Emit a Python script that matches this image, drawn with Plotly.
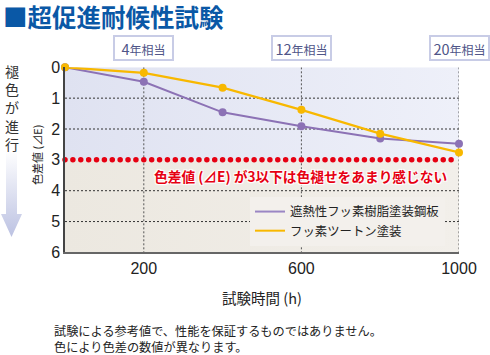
import numpy as np
import plotly.graph_objects as go

# ---- data ----
hours = [0, 200, 400, 600, 800, 1000]
purple_de = [0, 0.47, 1.46, 1.91, 2.31, 2.48]
orange_de = [0, 0.18, 0.66, 1.38, 2.15, 2.76]
series_names = ["遮熱性フッ素樹脂塗装鋼板", "フッ素ツートン塗装"]
x_ticks = [200, 600, 1000]
x_tick_labels = ["200", "600", "1000"]
y_ticks = [0, 1, 2, 3, 4, 5, 6]
grid_y = [1, 2, 4, 5]
year_labels = ["4", "12", "20"]
threshold = 3
footnotes = ["試験による参考値で、性能を保証するものではありません。",
             "色により色差の数値が異なります。"]

W, H = 490, 355
JP = "Noto Sans CJK JP"
NUM = "Liberation Sans, Arial"

def px_x(p):
    return p / W

def px_y(p):
    return 1 - p / H

PURPLE = "#8c72b5"
ORANGE = "#f8b800"
RED = "#e60012"

fig = go.Figure()

# background bands (gradient)
fig.add_trace(go.Scatter(
    x=[0, 1000, 1000, 0, 0], y=[0, 0, threshold, threshold, 0], mode="lines",
    line=dict(width=0), fill="toself",
    fillgradient=dict(type="horizontal", start=0, stop=1000,
                      colorscale=[[0, "#dfe2f1"], [1, "#eef0f9"]]),
    hoverinfo="skip", showlegend=False))
fig.add_trace(go.Scatter(
    x=[0, 1000, 1000, 0, 0], y=[threshold, threshold, 6, 6, threshold], mode="lines",
    line=dict(width=0), fill="toself",
    fillgradient=dict(type="horizontal", start=0, stop=1000,
                      colorscale=[[0, "#ece8e0"], [1, "#f2efea"]]),
    hoverinfo="skip", showlegend=False))

# horizontal grid
gx, gy = [], []
for v in grid_y:
    gx += [0, 1000, None]
    gy += [v, v, None]
fig.add_trace(go.Scatter(x=gx, y=gy, mode="lines",
                         line=dict(color="#333333", width=1, dash="2px,2px"),
                         hoverinfo="skip", showlegend=False))
# vertical grid
vx, vy = [], []
for v in x_ticks:
    vx += [v, v, None]
    vy += [0, 6, None]
fig.add_trace(go.Scatter(x=vx, y=vy, mode="lines",
                         line=dict(color="#555555", width=1, dash="2px,2px"),
                         hoverinfo="skip", showlegend=False))

# red threshold dots
dot_x = np.arange(0, 1000, 20)
fig.add_trace(go.Scatter(x=dot_x, y=[threshold] * len(dot_x), mode="markers",
                         marker=dict(color=RED, size=5.5), cliponaxis=False,
                         hoverinfo="skip", showlegend=False))

# data series
fig.add_trace(go.Scatter(x=hours, y=purple_de, mode="lines+markers",
                         line=dict(color=PURPLE, width=2),
                         marker=dict(color=PURPLE, size=8),
                         cliponaxis=False, showlegend=False, name=series_names[0]))
fig.add_trace(go.Scatter(x=hours, y=orange_de, mode="lines+markers",
                         line=dict(color=ORANGE, width=2.2),
                         marker=dict(color=ORANGE, size=8),
                         cliponaxis=False, showlegend=False, name=series_names[1]))
# legend entries (line only)
fig.add_trace(go.Scatter(x=[None], y=[None], mode="lines",
                         line=dict(color="#9a86c4", width=2), name=series_names[0]))
fig.add_trace(go.Scatter(x=[None], y=[None], mode="lines",
                         line=dict(color=ORANGE, width=2), name=series_names[1]))

# left arrow (pixel overlay)
ax_ = [6, 17, 17, 22, 11.5, 1, 6, 6]
ay_ = [150, 150, 214, 214, 237, 214, 214, 150]
fig.add_trace(go.Scatter(x=ax_, y=ay_, xaxis="x2", yaxis="y2", mode="lines",
                         line=dict(width=0), fill="toself",
                         fillgradient=dict(type="vertical", start=150, stop=237,
                                           colorscale=[[0, "rgba(255,255,255,1)"], [1, "#bcc2e2"]]),
                         hoverinfo="skip", showlegend=False))

annotations = []
# title
annotations.append(dict(xref="paper", yref="paper", x=px_x(1), y=px_y(16.5),
                        xanchor="left", yanchor="middle", showarrow=False,
                        text="<b>■超促進耐候性試験</b>",
                        font=dict(family=JP, size=24.5, color="#0a58a6")))
# year boxes
for xv, yl in zip(x_ticks, year_labels):
    annotations.append(dict(xref="x", yref="paper", x=xv, y=px_y(47.5),
                            xanchor="center", yanchor="middle", showarrow=False,
                            text=f"<span style='font-size:14.5px'>{yl}</span>年相当",
                            font=dict(family=JP, size=12, color="#4f5588"),
                            bgcolor="white", bordercolor="#c8cce6", borderwidth=2,
                            width=57, height=22, borderpad=0))
# red note
annotations.append(dict(xref="paper", yref="paper", x=px_x(300), y=px_y(176),
                        xanchor="center", yanchor="middle", showarrow=False,
                        text="<b>色差値 (⊿E) が3以下は色褪せをあまり感じない</b>",
                        font=dict(family=JP, size=13.7, color=RED,
                                  shadow="1px 1px 1px white, -1px -1px 1px white, 1px -1px 1px white, -1px 1px 1px white")))
# y title
annotations.append(dict(xref="paper", yref="paper", x=px_x(37), y=px_y(155),
                        xanchor="center", yanchor="middle", showarrow=False,
                        textangle=-90, text="色差値 (⊿E)",
                        font=dict(family=JP, size=11, color="#222222")))
# vertical text
annotations.append(dict(xref="paper", yref="paper", x=px_x(12), y=px_y(59),
                        xanchor="center", yanchor="top", showarrow=False,
                        text="<br>".join("褪色が進行"),
                        font=dict(family=JP, size=14, color="#333333")))
# x title
annotations.append(dict(xref="paper", yref="paper", x=px_x(262), y=px_y(297),
                        xanchor="center", yanchor="middle", showarrow=False,
                        text="試験時間 (h)",
                        font=dict(family=JP, size=14.5, color="#222222")))
# footnote
for i, line in enumerate(footnotes):
    annotations.append(dict(xref="paper", yref="paper", x=px_x(52), y=px_y(331 + 16 * i),
                            xanchor="left", yanchor="middle", showarrow=False, align="left",
                            text=line,
                            font=dict(family=JP, size=12.2, color="#222222")))

fig.update_layout(
    width=W, height=H, autosize=False,
    margin=dict(l=0, r=0, t=0, b=0, pad=0, autoexpand=False),
    paper_bgcolor="white", plot_bgcolor="rgba(0,0,0,0)",
    xaxis=dict(domain=[px_x(65), px_x(459)], range=[0, 1000], automargin=False,
               tickvals=x_ticks, ticktext=x_tick_labels, ticks="",
               showgrid=False, zeroline=False,
               showline=True, linecolor="#666666", linewidth=2,
               tickfont=dict(family=NUM, size=16, color="#222222")),
    yaxis=dict(domain=[px_y(252.4), px_y(67.3)], range=[6, 0], automargin=False,
               tickvals=y_ticks, ticks="", showgrid=False, zeroline=False,
               showline=True, linecolor="#444444", linewidth=1.5,
               tickfont=dict(family=NUM, size=16, color="#222222")),
    xaxis2=dict(domain=[0, 1], range=[0, W], visible=False, anchor="y2",
                fixedrange=True, automargin=False),
    yaxis2=dict(domain=[0, 1], range=[H, 0], visible=False, anchor="x2",
                fixedrange=True, automargin=False),
    legend=dict(x=px_x(250), y=px_y(197), xanchor="left", yanchor="top",
                bgcolor="#f3f0ec", borderwidth=0,
                font=dict(family=JP, size=12.4, color="#222222"),
                tracegroupgap=0),
    annotations=annotations,
    showlegend=True,
)

fig.write_html("out.html", config={"displayModeBar": False},
               post_script="document.body.style.margin='0';")
